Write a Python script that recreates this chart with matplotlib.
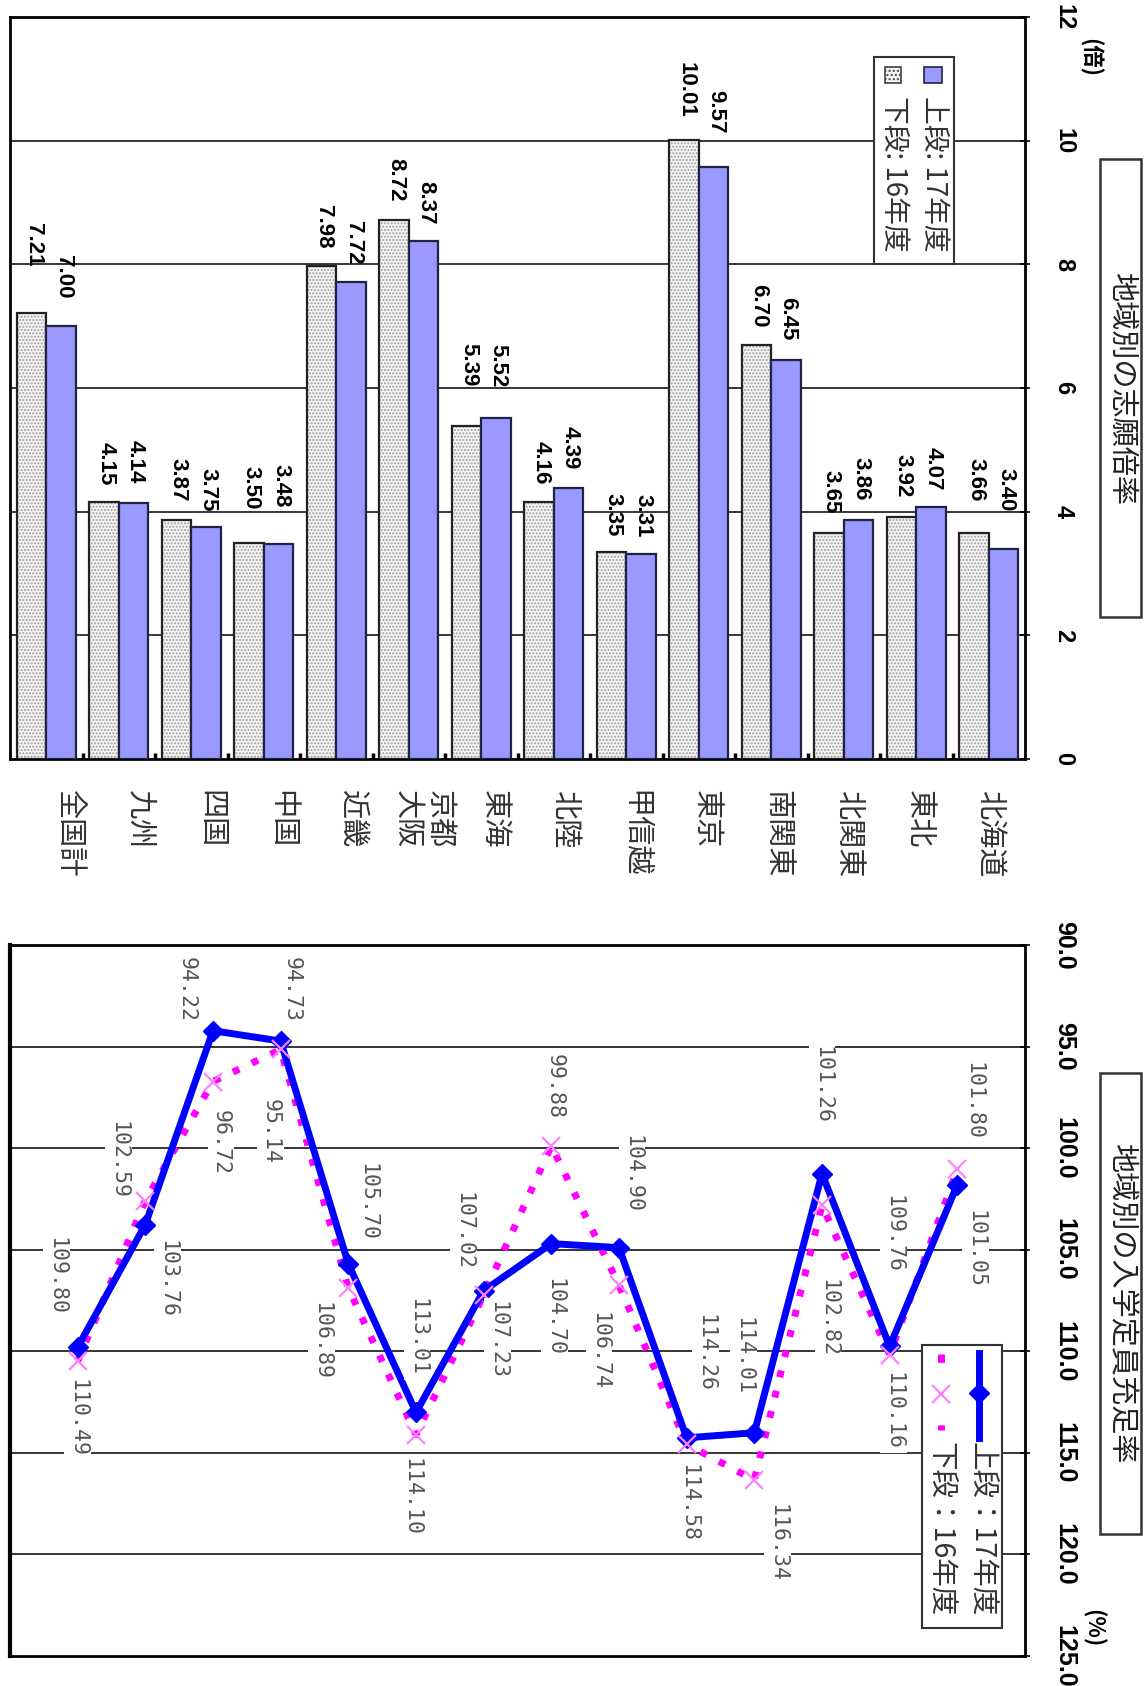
import numpy as np
import matplotlib
matplotlib.use('Agg')
import matplotlib.pyplot as plt
from matplotlib.patches import Rectangle
from matplotlib.lines import Line2D

plt.rcParams['font.family'] = ['Noto Sans CJK JP', 'DejaVu Sans']

# 地域 (上: 志願倍率, 下: 入学定員充足率)
regions = ['全国計', '九州', '四国', '中国', '近畿', '京都\n大阪', '東海', '北陸',
           '甲信越', '東京', '南関東', '北関東', '東北', '北海道']

# 志願倍率（倍）
ratio_17 = [7.00, 4.14, 3.75, 3.48, 7.72, 8.37, 5.52, 4.39, 3.31, 9.57, 6.45, 3.86, 4.07, 3.40]
ratio_16 = [7.21, 4.15, 3.87, 3.50, 7.98, 8.72, 5.39, 4.16, 3.35, 10.01, 6.70, 3.65, 3.92, 3.66]
ratio_ticks = [0, 2, 4, 6, 8, 10, 12]

# 入学定員充足率（%）
fill_17 = [109.80, 103.76, 94.22, 94.73, 105.70, 113.01, 107.02, 104.70, 104.90,
           114.26, 114.01, 101.26, 109.76, 101.80]
fill_16 = [110.49, 102.59, 96.72, 95.14, 106.89, 114.10, 107.23, 99.88, 106.74,
           114.58, 116.34, 102.82, 110.16, 101.05]
fill_ticks = [90, 95, 100, 105, 110, 115, 120, 125]

# label placement (pixels)
gap_16 = [47, 17, 18, 33, 17, 18, 39, 17, 15, 22, 17, 20, 19, 31]
gap_17 = [28, 20, 16, 36, 17, 17, 30, 18, 17, 34, 20, 20, 17, 37]
off_17 = [(-21, 71), (22, -54), (-26, 41), (11, 52), (19, 62), (1, 75), (-20, 60),
          (3, -73), (13, 74), (19, 85), (-11, 77), (0, 89), (4, 112), (16, 84)]
off_16 = [(0, -57), (-27, 41), (8, -61), (-10, -82), (-27, -53), (-5, -62), (14, -45),
          (3, 59), (-20, -66), (2, -59), (23, -63), (6, -113), (4, -56), (18, -80)]

W, H = 1144, 1686
fig = plt.figure(figsize=(W / 100, H / 100), dpi=100)


def box(l, t, r, b):
    return [l / W, 1 - b / H, (r - l) / W, (b - t) / H]


def fx(x):
    return x / W


def fy(y):
    return 1 - y / H


x = np.arange(len(regions))

# ---- 志願倍率 (bars) ----
ax1 = fig.add_axes(box(10, 17, 1025, 759))
w = 0.41
ax1.bar(x - w / 2, ratio_16, w, facecolor='#f4f4f4', edgecolor='#a0a0a0',
        hatch='.....', lw=0, zorder=2)
ax1.bar(x - w / 2, ratio_16, w, facecolor='none', edgecolor='#222222', lw=1.6, zorder=3)
ax1.bar(x + w / 2, ratio_17, w, facecolor='#9999ff', edgecolor='#222244', lw=1.6, zorder=3)
ax1.set_xlim(-0.5, 13.5)
ax1.set_ylim(0, 12)
for v in ratio_ticks[1:-1]:
    ax1.axhline(v, color='black', lw=1.1, zorder=1)
for s in ax1.spines.values():
    s.set_linewidth(2)
ax1.set_xticks([])
ax1.set_xticks(np.arange(0.5, 13, 1), minor=True)
ax1.tick_params(axis='x', which='minor', direction='in', length=4, width=2.5)
ax1.yaxis.tick_right()
ax1.set_yticks(ratio_ticks)
ax1.set_yticklabels([str(t) for t in ratio_ticks], family='Liberation Sans',
                    fontweight='bold')
ax1.tick_params(axis='y', direction='inout', length=7, width=1.2, pad=16,
                labelsize=17, labelrotation=-90)
for t in ax1.get_yticklabels():
    t.set_va('center')

for i in range(len(regions)):
    ax1.annotate(f'{ratio_16[i]:.2f}', (x[i] - w / 2, ratio_16[i]), xytext=(2, gap_16[i]),
                 textcoords='offset pixels', rotation=-90, ha='center', va='bottom',
                 fontsize=16, fontweight='bold', family='Liberation Sans', zorder=5)
    ax1.annotate(f'{ratio_17[i]:.2f}', (x[i] + w / 2, ratio_17[i]), xytext=(2, gap_17[i]),
                 textcoords='offset pixels', rotation=-90, ha='center', va='bottom',
                 fontsize=16, fontweight='bold', family='Liberation Sans', zorder=5)

# legend (bars)
fig.add_artist(Rectangle((fx(874), fy(264)), 80 / W, 207 / H, transform=fig.transFigure,
                         facecolor='white', edgecolor='#333333', lw=1.5))
fig.add_artist(Rectangle((fx(924), fy(83)), 18 / W, 16 / H, transform=fig.transFigure,
                         facecolor='#9999ff', edgecolor='#222244', lw=1.2))
fig.add_artist(Rectangle((fx(885), fy(83)), 16 / W, 16 / H, transform=fig.transFigure,
                         facecolor='#f4f4f4', edgecolor='#444444', hatch='....', lw=1.2))
fig.text(fx(934), fy(96), '上段: 17年度', rotation=-90, ha='center', va='top', fontsize=20,
         color='#333333')
fig.text(fx(894), fy(96), '下段: 16年度', rotation=-90, ha='center', va='top', fontsize=20,
         color='#333333')

fig.add_artist(Rectangle((fx(1100), fy(617)), 41 / W, 458 / H, transform=fig.transFigure,
                         facecolor='white', edgecolor='#333333', lw=1.8))
fig.text(fx(1121), fy(388), '地域別の志願倍率', rotation=-90, ha='center', va='center',
         fontsize=21, color='#222222')
fig.text(fx(1089), fy(57), '(倍)', rotation=-90, ha='center', va='center', fontsize=16,
         fontweight='bold')

# ---- 地域名 ----
axl = fig.add_axes(box(33.6, 785, 1024.6, 900))
axl.set_xlim(-0.5, 13.5)
axl.set_ylim(1, 0)
axl.axis('off')
for i, name in enumerate(regions):
    axl.text(x[i], 0.04, name, rotation=-90, ha='center', va='top', fontsize=21,
             color='#333333', linespacing=1.05)

# ---- 入学定員充足率 (lines) ----
ax2 = fig.add_axes(box(10, 945, 1025, 1656))
ax2.set_xlim(-1, 14)
ax2.set_ylim(125, 90)
for v in fill_ticks[1:-1]:
    ax2.axhline(v, color='black', lw=1.1, zorder=1)
for s in ax2.spines.values():
    s.set_linewidth(2)
ax2.spines['left'].set_linewidth(3)
ax2.set_xticks([])
ax2.yaxis.tick_right()
ax2.set_yticks(fill_ticks)
ax2.set_yticklabels([f'{t:.1f}' for t in fill_ticks], family='Liberation Sans',
                    fontweight='bold')
ax2.tick_params(axis='y', direction='inout', length=7, width=1.2, pad=16,
                labelsize=18, labelrotation=-90)
for t in ax2.get_yticklabels():
    t.set_va('center')

ax2.plot(x, fill_16, color='#ff00ff', lw=5, linestyle=(0, (1, 2)), zorder=3)
ax2.plot(x, fill_17, color='#0000ff', lw=5, marker='D', ms=10, zorder=4)
ax2.plot(x, fill_16, ls='none', marker='x', color='#ff80ff', ms=13, mew=1.6, zorder=5)

lbl = dict(textcoords='offset pixels', rotation=-90, ha='center', va='center',
           fontsize=15.5, family='DejaVu Sans Mono', color='#555555', zorder=6,
           bbox=dict(boxstyle='square,pad=0.15', facecolor='white', edgecolor='none'))
for i in range(len(regions)):
    ax2.annotate(f'{fill_17[i]:.2f}', (x[i], fill_17[i]), xytext=off_17[i], **lbl)
    ax2.annotate(f'{fill_16[i]:.2f}', (x[i], fill_16[i]), xytext=off_16[i], **lbl)

# legend (lines)
fig.add_artist(Rectangle((fx(922), fy(1628)), 80 / W, 283 / H, transform=fig.transFigure,
                         facecolor='white', edgecolor='#333333', lw=1.5))
fig.add_artist(Line2D([fx(979), fx(979)], [fy(1353), fy(1438)], transform=fig.transFigure,
                      color='#0000ff', lw=5))
fig.add_artist(Line2D([fx(979)], [fy(1393)], transform=fig.transFigure, color='#0000ff',
                      marker='D', ms=10, ls='none'))
fig.add_artist(Line2D([fx(941), fx(941)], [fy(1354), fy(1430)], transform=fig.transFigure,
                      color='#ff00ff', lw=5, linestyle=(0, (1.2, 9))))
fig.add_artist(Line2D([fx(941)], [fy(1394)], transform=fig.transFigure, color='#ff80ff',
                      marker='x', ms=13, mew=1.6, ls='none'))
fig.text(fx(982), fy(1442), '上段：17年度', rotation=-90, ha='center', va='top', fontsize=20.5,
         color='#333333')
fig.text(fx(941), fy(1442), '下段：16年度', rotation=-90, ha='center', va='top', fontsize=20.5,
         color='#333333')

fig.add_artist(Rectangle((fx(1100), fy(1534)), 41 / W, 461 / H, transform=fig.transFigure,
                         facecolor='white', edgecolor='#333333', lw=1.8))
fig.text(fx(1121), fy(1303), '地域別の入学定員充足率', rotation=-90, ha='center', va='center',
         fontsize=21, color='#222222')
fig.text(fx(1092), fy(1628), '(%)', rotation=-90, ha='center', va='center', fontsize=16,
         fontweight='bold')

fig.savefig('out.png', dpi=100)
